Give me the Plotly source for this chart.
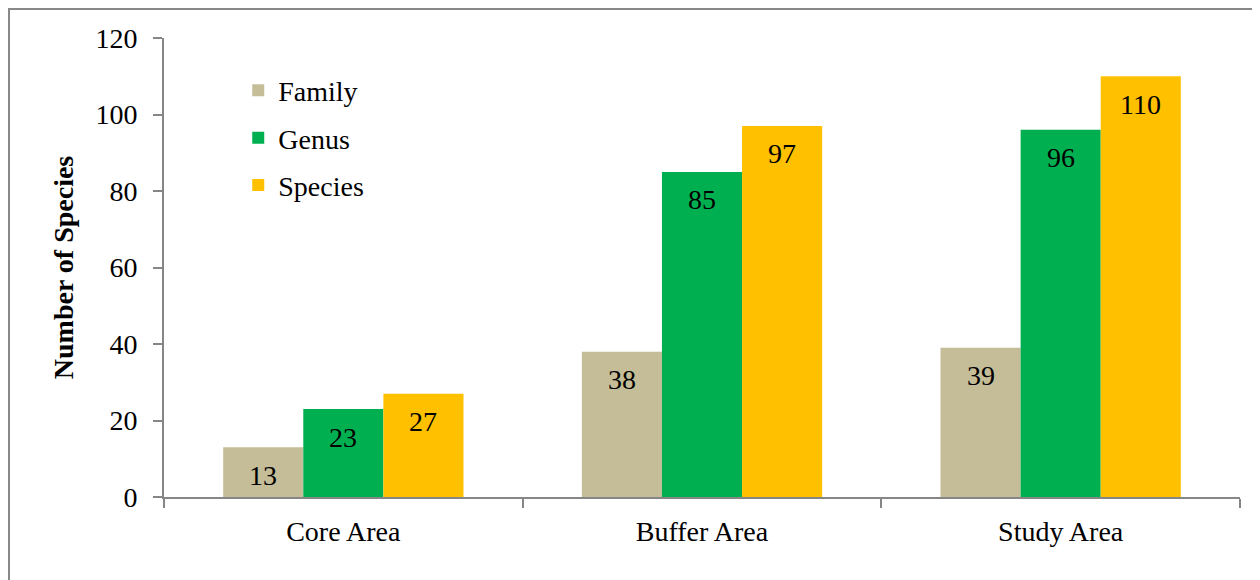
import plotly.graph_objects as go

# data
areas = ["Core Area", "Buffer Area", "Study Area"]
family = [13, 38, 39]
genus = [23, 85, 96]
species = [27, 97, 110]

series = [
    ("Family", family, "#C4BD97"),
    ("Genus", genus, "#00B050"),
    ("Species", species, "#FFC000"),
]

FONT = "Liberation Serif"
FS = 28
bargap = 0.33
bar_w = (1 - bargap) / len(series)

# page has an 8px body margin, so the figure is sized to end at the window edge
W, H = 1252, 572
L, R, T, B = 156, 20, 30, 83
PW, PH = W - L - R, H - T - B

fig = go.Figure()

for i, (name, vals, color) in enumerate(series):
    fig.add_trace(go.Bar(
        x=areas,
        y=vals,
        name=name,
        marker=dict(color=color, line=dict(width=0)),
        legendgroup=name,
    ))
    # value labels sitting a bit under the top of each bar
    for j, v in enumerate(vals):
        fig.add_annotation(
            x=j + (i - 1) * bar_w, y=v, xref="x", yref="y",
            text=str(v), showarrow=False, yshift=-28, yanchor="middle",
            font=dict(family=FONT, size=FS, color="black"),
        )

fig.update_layout(
    width=W, height=H,
    barmode="group", bargap=bargap, bargroupgap=0,
    plot_bgcolor="white", paper_bgcolor="white",
    margin=dict(l=L, r=R, t=T, b=B),
    font=dict(family=FONT, size=FS, color="black"),
    legend=dict(
        x=0.069, y=0.94, xanchor="left", yanchor="top",
        font=dict(family=FONT, size=FS, color="black"),
        tracegroupgap=8, itemwidth=30,
        bgcolor="rgba(0,0,0,0)",
    ),
    showlegend=True,
)

fig.update_xaxes(
    type="category",
    showline=True, linecolor="#868686", linewidth=2,
    ticks="outside", tickson="boundaries", ticklen=9, tickcolor="#868686", tickwidth=2,
    showgrid=False, ticklabelstandoff=8,
    tickfont=dict(family=FONT, size=FS, color="black"),
)

fig.update_yaxes(
    range=[0, 120], dtick=20,
    showline=True, linecolor="#868686", linewidth=2,
    ticks="outside", ticklen=9, tickcolor="#868686", tickwidth=2,
    showgrid=False, zeroline=False, ticklabelstandoff=10,
    tickfont=dict(family=FONT, size=FS, color="black"),
    title=dict(text="<b>Number of Species</b>", standoff=14,
               font=dict(family=FONT, size=FS, color="black")),
)

# outer chart frame
fig.add_shape(
    type="rect", xref="paper", yref="paper",
    x0=(1 - L) / PW, x1=(1250 - L) / PW,
    y0=-0.2, y1=1 + (T - 1) / PH,
    line=dict(color="#888888", width=2), layer="below",
)

fig.write_html("out.html")
